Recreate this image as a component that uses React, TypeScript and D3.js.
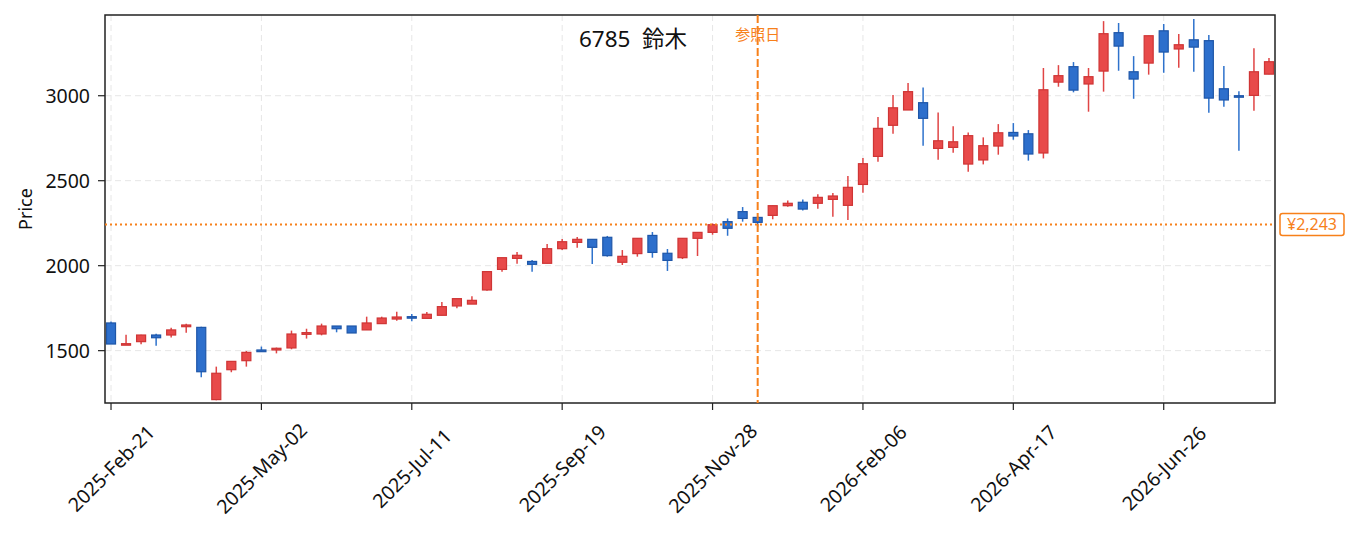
import * as d3 from "d3";

// weekly candles, 2025-Feb-21 .. 2026-Aug-14
const firstWeek = new Date(2025, 1, 21);
const weekCount = 78;

const opens = [
  1663, 1537, 1553, 1592, 1592, 1641, 1637, 1212, 1388, 1441,
  1504, 1504, 1516, 1596, 1598, 1645, 1645, 1622, 1659, 1686,
  1700, 1690, 1708, 1763, 1774, 1857, 1978, 2043, 2025, 2014,
  2100, 2137, 2155, 2167, 2020, 2071, 2178, 2073, 2047, 2161,
  2196, 2259, 2318, 2284, 2296, 2353, 2373, 2367, 2390, 2355,
  2478, 2643, 2826, 2916, 2959, 2690, 2696, 2598, 2622, 2704,
  2784, 2776, 2663, 3080, 3171, 3069, 3145, 3371, 3141, 3192,
  3382, 3275, 3329, 3324, 3041, 3000, 3002, 3127,
];
const highs = [
  1671, 1594, 1594, 1600, 1635, 1659, 1640, 1406, 1437, 1498,
  1524, 1518, 1618, 1629, 1659, 1645, 1645, 1700, 1700, 1729,
  1716, 1727, 1786, 1806, 1820, 1965, 2047, 2080, 2033, 2127,
  2157, 2169, 2155, 2175, 2092, 2161, 2198, 2098, 2161, 2196,
  2249, 2278, 2345, 2290, 2353, 2384, 2390, 2420, 2427, 2527,
  2633, 2875, 3004, 3075, 3049, 2902, 2820, 2784, 2755, 2833,
  2839, 2798, 3163, 3180, 3198, 3163, 3439, 3428, 3233, 3353,
  3422, 3363, 3451, 3357, 3175, 3027, 3280, 3222,
];
const lows = [
  1539, 1536, 1537, 1529, 1578, 1606, 1343, 1208, 1373, 1406,
  1494, 1484, 1508, 1571, 1590, 1608, 1604, 1622, 1659, 1676,
  1673, 1690, 1708, 1749, 1774, 1853, 1965, 2012, 1965, 2014,
  2092, 2106, 2010, 2053, 2004, 2053, 2047, 1969, 2039, 2057,
  2182, 2176, 2259, 2230, 2273, 2347, 2324, 2335, 2288, 2269,
  2429, 2612, 2776, 2916, 2706, 2624, 2665, 2553, 2596, 2653,
  2741, 2618, 2631, 3053, 3020, 2906, 3024, 3147, 2982, 3124,
  3135, 3165, 3141, 2900, 2935, 2676, 2912, 3127,
];
const closes = [
  1539, 1541, 1592, 1576, 1622, 1651, 1376, 1367, 1437, 1490,
  1494, 1514, 1598, 1606, 1645, 1629, 1604, 1663, 1692, 1698,
  1696, 1714, 1759, 1806, 1796, 1965, 2047, 2061, 2008, 2100,
  2141, 2155, 2108, 2059, 2055, 2161, 2078, 2031, 2161, 2196,
  2241, 2220, 2278, 2255, 2353, 2367, 2333, 2402, 2410, 2461,
  2600, 2808, 2929, 3024, 2867, 2735, 2729, 2765, 2706, 2782,
  2763, 2657, 3035, 3118, 3033, 3112, 3365, 3292, 3098, 3353,
  3257, 3300, 3286, 2986, 2975, 2992, 3141, 3200,
];

const yTicks = [1500, 2000, 2500, 3000];
const xTickEvery = 10; // weeks between date labels
const refWeek = 43; // 2025-Dec-19
const refPrice = 2243;
const title = "6785  鈴木";

const W = 1355;
const H = 533;
const left = 105;
const right = 1275;
const top = 15;
const bottom = 403;

const orange = "#f7801a";
const font = "'Noto Sans', 'Noto Sans CJK JP', sans-serif";

export default function App() {
  const dates = d3.range(weekCount).map((i) => d3.timeDay.offset(firstWeek, i * 7));
  const week = 7 * 24 * 3600 * 1000;

  const x = d3.scaleTime()
    .domain([new Date(+dates[0] - 0.4 * week), new Date(+dates[weekCount - 1] + 0.4 * week)])
    .range([left, right]);
  const y = d3.scaleLinear().domain([1192, 3475]).range([bottom, top]);

  const bodyW = x(new Date(+dates[0] + 0.6 * week)) - x(dates[0]);
  const fmt = d3.timeFormat("%Y-%b-%d");
  const tickDates = dates.filter((d, i) => i % xTickEvery === 0);
  const refX = x(dates[refWeek]);

  return (
    <svg width={W} height={H} style={{ position: "absolute", left: 0, top: 0, background: "#fff" }}
      fontFamily={font}>
      <defs>
        <clipPath id="plot">
          <rect x={left} y={top} width={right - left} height={bottom - top} />
        </clipPath>
      </defs>

      {/* grid */}
      <g stroke="#e6e6e6" strokeWidth="1" strokeDasharray="6,4">
        {yTicks.map((t) => (
          <line key={t} x1={left} x2={right} y1={y(t)} y2={y(t)} />
        ))}
        {tickDates.map((d) => (
          <line key={+d} x1={x(d)} x2={x(d)} y1={top} y2={bottom} />
        ))}
      </g>

      {/* candles */}
      <g clipPath="url(#plot)">
        {dates.map((d, i) => {
          const up = closes[i] >= opens[i];
          const cx = x(d);
          const y0 = y(Math.max(opens[i], closes[i]));
          const y1 = y(Math.min(opens[i], closes[i]));
          return (
            <g key={i}>
              <line x1={cx} x2={cx} y1={y(highs[i])} y2={y(lows[i])}
                stroke={up ? "#e04545" : "#2e72cc"} strokeWidth="1.5" />
              <rect x={cx - bodyW / 2} y={y0} width={bodyW} height={Math.max(y1 - y0, 1.5)}
                fill={up ? "#e84a4a" : "#2d6fcc"} stroke={up ? "#cf3535" : "#1e56a8"} strokeWidth="1.2" />
            </g>
          );
        })}
      </g>

      {/* frame */}
      <rect x={left} y={top} width={right - left} height={bottom - top} fill="none" stroke="#222" strokeWidth="1.5" />

      {/* y axis */}
      <g fontSize="19.5" fill="#111">
        {yTicks.map((t) => (
          <g key={t}>
            <line x1={left - 7} x2={left} y1={y(t)} y2={y(t)} stroke="#222" strokeWidth="1.2" />
            <text x={left - 15} y={y(t)} textAnchor="end" dominantBaseline="central">{t}</text>
          </g>
        ))}
      </g>
      <text x={25} y={209} fontSize="18" fill="#111" textAnchor="middle" dominantBaseline="central"
        transform="rotate(-90,25,209)">Price</text>

      {/* x axis */}
      <g fontSize="19.5" fill="#111">
        {tickDates.map((d) => (
          <g key={+d}>
            <line x1={x(d)} x2={x(d)} y1={bottom} y2={bottom + 7} stroke="#222" strokeWidth="1.2" />
            <text x={x(d)} y={468} textAnchor="middle" dominantBaseline="central"
              transform={`rotate(-45,${x(d)},468)`}>{fmt(d)}</text>
          </g>
        ))}
      </g>

      {/* reference date and price */}
      <line x1={refX} x2={refX} y1={top} y2={bottom} stroke={orange} strokeWidth="2" strokeDasharray="8,3" />
      <line x1={left} x2={right} y1={y(refPrice)} y2={y(refPrice)} stroke={orange} strokeWidth="2" strokeDasharray="2,3" />
      <text x={refX} y={40} fontSize="15" fill={orange} textAnchor="middle">参照日</text>
      <rect x={1280} y={y(refPrice) - 11} width={64} height={22} rx="2.5" fill="#fff" stroke={orange} strokeWidth="1.5" />
      <text x={1312} y={y(refPrice)} fontSize="16" fill={orange} textAnchor="middle" dominantBaseline="central">
        ¥{d3.format(",")(refPrice)}
      </text>

      <text x={633} y={47} fontSize="22.5" fill="#111" textAnchor="middle" style={{ whiteSpace: "pre" }}>{title}</text>
    </svg>
  );
}
